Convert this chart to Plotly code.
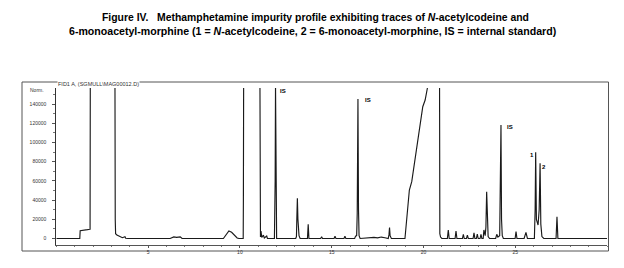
import plotly.graph_objects as go

# ---- data ----
# retention time (min) and detector signal; values above the axis top are off-scale peaks
time_min = [
    0.00, 1.28, 1.30, 1.55, 1.70, 1.82, 1.84, 1.87,
    3.17, 3.21, 3.23, 3.30, 3.45, 3.60, 3.74, 3.78, 3.90,
    6.20, 6.40, 6.55, 6.75, 6.85,
    9.10, 9.25, 9.40, 9.55, 9.70, 9.85, 9.95,
    10.18, 10.19, 10.23,
    11.05, 11.08, 11.12, 11.15, 11.19, 11.28, 11.33, 11.46, 11.50,
    11.88, 11.92, 11.94, 11.96, 12.00,
    13.04, 13.08, 13.10, 13.13, 13.16, 13.19, 13.22, 13.28,
    13.68, 13.72, 13.76,
    14.40, 14.45, 14.50, 15.13, 15.18, 15.23, 15.67, 15.72, 15.77,
    16.25, 16.30, 16.36, 16.39, 16.43, 16.46, 16.49, 16.55,
    17.30, 17.50, 17.70, 17.90,
    18.08, 18.12, 18.15, 18.18, 18.25,
    18.99, 19.23, 19.36, 19.63, 19.85, 19.96, 20.09, 20.21, 20.40,
    20.85, 20.89, 20.93, 21.00,
    21.30, 21.35, 21.40, 21.72, 21.77, 21.82, 22.12, 22.17, 22.22, 22.34, 22.39, 22.44,
    22.70, 22.75, 22.80, 22.88, 22.93, 22.98, 23.08, 23.13, 23.18,
    23.25, 23.29, 23.36, 23.40, 23.44, 23.48, 23.52, 23.60,
    23.93, 23.99, 24.05, 24.15, 24.19, 24.22, 24.25, 24.29, 24.35,
    24.99, 25.04, 25.09, 25.48, 25.58, 25.66,
    26.04, 26.08, 26.11, 26.15, 26.24, 26.30, 26.35, 26.39, 26.45, 26.55,
    27.22, 27.27, 27.32,
    30.00,
]
signal = [
    0, 0, 8100, 8300, 9200, 9600, 9700, 400000,
    400000, 20000, 5000, 3500, 2000, 800, 1800, 300, 0,
    0, 1700, 1200, 1700, 0,
    0, 4000, 7800, 6500, 3000, 500, 0,
    0, 40000, 400000,
    400000, 4000, 1500, 7800, 1000, 3500, 500, 2600, 0,
    0, 60000, 160000, 60000, 0,
    0, 2000, 20000, 41900, 20000, 6000, 3000, 0,
    0, 14800, 0,
    0, 1900, 0, 0, 2500, 0, 0, 2500, 0,
    0, 2500, 3000, 26000, 145400, 30000, 3000, 0,
    1200, 600, 1500, 800,
    0, 4000, 11300, 3000, 0,
    0, 50500, 59200, 94300, 121700, 137300, 144300, 156500, 400000,
    400000, 5000, 1500, 0,
    0, 8900, 0, 0, 7800, 0, 0, 4400, 0, 0, 3500, 0,
    0, 6000, 0, 0, 4600, 0, 0, 4400, 0,
    0, 8900, 3000, 12000, 48800, 6000, 2000, 0,
    0, 4400, 1500, 3000, 52000, 118300, 20000, 3000, 0,
    0, 7100, 0, 0, 6300, 0,
    0, 30000, 89800, 20000, 14000, 30000, 78300, 15000, 2000, 0,
    0, 22700, 0,
    0,
]

y_tick_values = [0, 20000, 40000, 60000, 80000, 100000, 120000, 140000]
x_tick_values = [5, 10, 15, 20, 25]

peak_label_text = ["IS", "IS", "IS", "1", "2"]
peak_label_time = [12.37, 17.00, 24.70, 25.89, 26.56]
peak_label_signal = [154200, 143800, 115700, 87000, 74800]

title_line1 = "Figure IV.   Methamphetamine impurity profile exhibiting traces of <i>N</i>-acetylcodeine and"
title_line2 = "6-monoacetyl-morphine (1 = <i>N</i>-acetylcodeine, 2 = 6-monoacetyl-morphine, IS = internal standard)"
signal_header = "FID1 A, (SGMULL\\MAG00012.D)"
y_unit = "Norm."

W, H = 624, 268

def px(x):
    return x / W

def py(y):
    return (H - y) / H

fig = go.Figure()
fig.add_trace(go.Scatter(
    x=time_min, y=signal, mode="lines",
    line=dict(color="#1a1a1a", width=1.15),
    hoverinfo="skip", showlegend=False,
))

axis_font = dict(family="Liberation Sans, Arial, sans-serif", size=5, color="#333333")

fig.update_layout(
    width=W, height=H,
    margin=dict(l=0, r=0, t=0, b=0),
    paper_bgcolor="white", plot_bgcolor="white",
    showlegend=False,
    xaxis=dict(
        domain=[px(56.3), px(607.1)], range=[0, 30],
        tickvals=x_tick_values, ticktext=[str(v) for v in x_tick_values],
        showgrid=False, zeroline=False,
        showline=True, linecolor="#555555", linewidth=1,
        ticks="outside", ticklen=2, tickcolor="#555555",
        minor=dict(dtick=1, ticks="outside", ticklen=1, tickcolor="#777777"),
        tickfont=axis_font,
    ),
    yaxis=dict(
        domain=[py(245), py(88)], range=[-6773, 156821],
        tickvals=y_tick_values, tickformat="d",
        showgrid=False, zeroline=False,
        showline=True, linecolor="#333333", linewidth=1,
        ticks="outside", ticklen=3, tickcolor="#555555",
        minor=dict(dtick=10000, ticks="outside", ticklen=2, tickcolor="#777777"),
        tickfont=axis_font, ticklabelstandoff=5,
    ),
    font=dict(family="Liberation Sans, Arial, sans-serif", color="#111111"),
)

# outer frame of the printout
fig.add_shape(type="rect", xref="paper", yref="paper",
              x0=px(22), x1=px(608.5), y0=py(251), y1=py(82),
              line=dict(color="#555555", width=1), fillcolor="rgba(0,0,0,0)", layer="below")

# title
fig.add_annotation(xref="paper", yref="paper", x=px(315), y=py(18),
                   text="<b>" + title_line1 + "</b>", showarrow=False,
                   xanchor="center", yanchor="middle",
                   font=dict(family="Liberation Sans, Arial, sans-serif", size=10.4, color="#000000"))
fig.add_annotation(xref="paper", yref="paper", x=px(312.5), y=py(31),
                   text="<b>" + title_line2 + "</b>", showarrow=False,
                   xanchor="center", yanchor="middle",
                   font=dict(family="Liberation Sans, Arial, sans-serif", size=10.6, color="#000000"))

# signal header and unit
fig.add_annotation(xref="paper", yref="paper", x=px(57), y=py(84),
                   text=signal_header, showarrow=False, xanchor="left", yanchor="middle",
                   bgcolor="white", borderpad=0,
                   font=dict(family="Liberation Sans, Arial, sans-serif", size=5.5, color="#333333"))
fig.add_annotation(xref="paper", yref="paper", x=px(46), y=py(90),
                   text=y_unit, showarrow=False, xanchor="right", yanchor="middle",
                   font=axis_font)

# peak labels
for txt, t, v in zip(peak_label_text, peak_label_time, peak_label_signal):
    fig.add_annotation(x=t, y=v, text="<b>" + txt + "</b>", showarrow=False,
                       xanchor="center", yanchor="middle",
                       font=dict(family="Liberation Sans, Arial, sans-serif", size=6, color="#000000"))

fig.write_html("out.html")
